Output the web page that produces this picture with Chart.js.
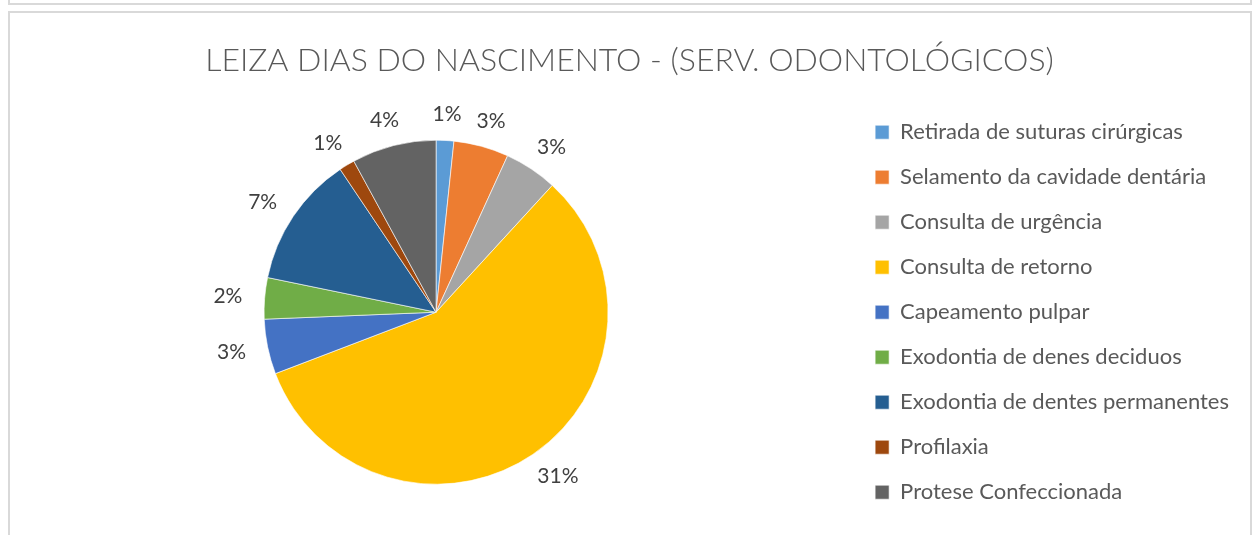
<!DOCTYPE html>
<html>
<head>
<meta charset="utf-8">
<script src="https://cdn.jsdelivr.net/npm/chart.js@4"></script>
<style>
  html, body { margin: 0; padding: 0; background: #fff; overflow: hidden; width: 1259px; height: 535px; }
  .topbox { position: absolute; left: 8px; top: -20px; width: 1240px; height: 21px; border: 2px solid #d9d9d9; }
  .box { position: absolute; left: 8px; top: 11px; width: 1240px; height: 560px; border: 2px solid #d9d9d9; }
  canvas { display: block; }
</style>
</head>
<body>
<div class="topbox"></div>
<div class="box"><canvas id="grafico" width="1240" height="560"></canvas></div>
<script>
// servicos e valores
const categorias = [
  'Retirada de suturas cirúrgicas',
  'Selamento da cavidade dentária',
  'Consulta de urgência',
  'Consulta de retorno',
  'Capeamento pulpar',
  'Exodontia de denes deciduos',
  'Exodontia de dentes permanentes',
  'Profilaxia',
  'Protese Confeccionada'
];
const valores = [0.9, 2.8, 2.7, 31.1, 2.8, 2.1, 6.7, 0.8, 4.3];
const cores = ['#5B9BD5', '#ED7D31', '#A5A5A5', '#FFC000', '#4472C4', '#70AD47', '#255E91', '#9E480E', '#636363'];
const titulo = 'LEIZA DIAS DO NASCIMENTO - (SERV. ODONTOLÓGICOS)';

const FONTE = 'Lato, "Open Sans", sans-serif';

// rotulos de porcentagem fora das fatias
const rotulosFora = {
  id: 'rotulosFora',
  afterDatasetsDraw(chart) {
    const ctx = chart.ctx;
    const meta = chart.getDatasetMeta(0);
    ctx.save();
    ctx.font = '21px ' + FONTE;
    ctx.fillStyle = '#404040';
    ctx.textAlign = 'center';
    ctx.textBaseline = 'middle';
    meta.data.forEach((arc, i) => {
      const p = arc.getProps(['x', 'y', 'startAngle', 'endAngle', 'outerRadius']);
      const a = (p.startAngle + p.endAngle) / 2;
      const txt = Math.round(valores[i]) + '%';
      const w = ctx.measureText(txt).width;
      const d = p.outerRadius + 18;
      const cx = p.x + Math.cos(a) * d + Math.cos(a) * w * 0.65;
      const cy = p.y + Math.sin(a) * d + Math.sin(a) * 8;
      ctx.fillText(txt, cx, cy);
    });
    ctx.restore();
  }
};

new Chart(document.getElementById('grafico'), {
  type: 'pie',
  data: {
    labels: categorias,
    datasets: [{
      data: valores,
      backgroundColor: cores,
      borderColor: 'rgba(255,255,255,0.6)',
      borderWidth: 1,
      radius: 172
    }]
  },
  options: {
    responsive: false,
    animation: false,
    layout: { padding: { left: 10, right: 11, top: 0, bottom: 42 } },
    plugins: {
      title: {
        display: true,
        text: titulo,
        color: '#595959',
        font: { family: FONTE, size: 32, weight: '300' },
        padding: { top: 28, bottom: 14 }
      },
      legend: {
        position: 'right',
        fullSize: false,
        labels: {
          color: '#595959',
          font: { family: FONTE, size: 22 },
          boxWidth: 14,
          boxHeight: 14,
          padding: 23
        }
      },
      tooltip: { enabled: false }
    }
  },
  plugins: [rotulosFora]
});
</script>
</body>
</html>
